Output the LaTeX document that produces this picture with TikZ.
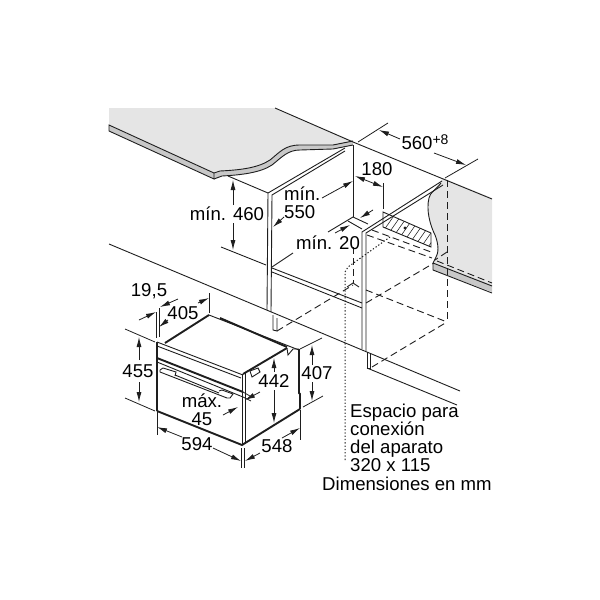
\documentclass[tikz,border=0pt]{standalone}
\usepackage{fontspec}
\setmainfont{Liberation Sans}
\usetikzlibrary{arrows.meta}
\definecolor{topgrey}{RGB}{229,229,229}
\definecolor{edgegrey}{RGB}{200,200,200}
\definecolor{inkgrey}{RGB}{30,30,30}
\tikzset{
    thinline/.style={draw=inkgrey, line width=0.9pt},
    heavyline/.style={draw=inkgrey, line width=1.9pt},
    dashline/.style={draw=inkgrey, line width=0.9pt, dash pattern=on 7pt off 4pt},
    dotline/.style={draw=inkgrey, line width=1pt, dash pattern=on 1.3pt off 2pt},
    dimline/.style={draw=inkgrey, line width=0.8pt},
    hatchline/.style={draw=inkgrey, line width=0.55pt},
    tipend/.style={dimline, -{Latex[length=10pt,width=5pt]}},
    tipboth/.style={dimline, {Latex[length=10pt,width=5pt]}-{Latex[length=10pt,width=5pt]}},
    dimtext/.style={inner sep=0pt, font=\fontsize{18.6}{20}\selectfont},
    notetext/.style={dimtext, anchor=west, align=left}
}
\begin{document}
\begin{tikzpicture}[x=1pt, y=-1pt]
    \useasboundingbox (0,0) rectangle (600,600);

    % left worktop
    \fill[topgrey] (109,108) -- (275,108) -- (353,141) -- (333,145) -- (300,145) .. controls (285,145) and (280,152) .. (270,160) .. controls (258,168) and (240,170) .. (220,171) -- (214,173) -- (109,125) -- cycle;
    \fill[edgegrey] (109,125) -- (214,173) -- (214,179) -- (109,131) -- cycle;
    \fill[edgegrey] (214,173) -- (220,171) .. controls (240,170) and (258,168) .. (270,160) .. controls (280,152) and (285,145) .. (300,145) -- (333,145) -- (353,141) -- (353,145) -- (333,149) -- (300,150) .. controls (288,150) and (282,157) .. (272,165) .. controls (260,173) and (240,175) .. (222,176) -- (214,179) -- cycle;
    \draw[thinline] (109,125) -- (214,173) -- (214,179) -- (109,131) -- cycle;
    \draw[thinline] (214,173) -- (220,171) .. controls (240,170) and (258,168) .. (270,160) .. controls (280,152) and (285,145) .. (300,145) -- (333,145) -- (353,141);
    \draw[thinline] (214,179) -- (222,176) .. controls (240,175) and (260,173) .. (272,165) .. controls (282,157) and (288,150) .. (300,150) -- (333,149) -- (353,145);

    % right worktop
    \fill[topgrey] (443,178) -- (492,198) -- (492,285) -- (433,263) -- (436,257) .. controls (440,250) and (437,240) .. (435,235) .. controls (430,225) and (426,210) .. (430,195) -- cycle;
    \fill[edgegrey] (433,263) -- (492,285) -- (492,292) -- (433,270) -- cycle;
    \draw[thinline] (433,263) -- (492,286);
    \draw[thinline] (433,263) -- (433,270) -- (492,293);
    \draw[thinline] (441,183) .. controls (436,190) and (430,192) .. (429,198) .. controls (426,210) and (430,225) .. (435,235) .. controls (437,240) and (440,250) .. (436,257) -- (433,263);
    \draw[dashline] (437,261) -- (492,283);
    \draw[dashline] (447,180) -- (447,322);
    \draw[dashline] (447,252) -- (435,260);

    % back and wall lines
    \draw[thinline] (275,108) -- (353,142) -- (492,199);
    \draw[thinline] (109,244) -- (460,391);
    \draw[thinline] (367,368) -- (457,405);
    \draw[thinline] (228,176) -- (268,193);
    \draw[thinline] (221,247) -- (266,265);

    % left side panel
    \draw[thinline] (345,148) -- (268,193) -- (267,310);
    \draw[thinline] (345,151) -- (272,195) -- (271,312);
    \draw[thinline] (273,315) -- (273,330) -- (277,331) -- (277,318);
    \draw[thinline] (272,268) -- (362,303);
    \draw[thinline] (272,272) -- (362,308);

    % right side panel
    \draw[thinline] (353,145) -- (353,217);
    \draw[thinline] (328,232) -- (353,217) -- (368,224);
    \draw[thinline] (348,221) -- (362,229);
    \draw[thinline] (442,181) -- (362,232) -- (362,349);
    \draw[thinline] (443,185) -- (366,233) -- (366,351);
    \draw[thinline] (367,352) -- (367,368) -- (370,368) -- (370,354);

    % connection box
    \begin{scope}
        \clip (383,212) -- (431,233) -- (431,247) -- (383,227) -- cycle;
        \foreach \h in {370,377,...,440} {
            \draw[hatchline] (\h,250) -- (\h+28,210);
        }
    \end{scope}
    \draw[thinline] (383,212) -- (431,233) -- (431,247) -- (383,227) -- cycle;
    \fill[inkgrey] (405,228) circle (1.6pt);
    \draw[dashline] (372,230) -- (431,252);
    \draw[dashline] (367,235) -- (432,258);

    % dashed outline of the space
    \draw[dashline] (353,247) -- (353,283);
    \draw[thinline] (347,287) -- (353,283) -- (359,287);
    \draw[dashline] (277,331) -- (353,285);
    \draw[dashline] (366,303) -- (434,263);
    \draw[dashline] (372,367) -- (447,322);
    \draw[dashline] (366,290) -- (447,322);
    \draw[dotline] (345,460) -- (345,272) -- (348,267) -- (390,237);

    % oven
    \draw[heavyline] (157,411) -- (242,445) -- (300,409);
    \draw[heavyline] (157,342) -- (157,411);
    \draw[heavyline] (165,343) -- (209,315);
    \draw[heavyline] (220,318) -- (287,347);
    \draw[heavyline] (243,374) -- (287,348);
    \draw[thinline] (209,315) -- (299,350);
    \draw[thinline] (287,348) -- (288,355) -- (293,349) -- (299,349);
    \draw[heavyline] (299,349) -- (299,393) -- (300,394) -- (300,409);
    \draw[thinline] (242,374) -- (242,445);
    \draw[thinline] (245,373) -- (245,443);
    \draw[thinline] (157,342) -- (243,375);
    \draw[thinline] (157,346) -- (241,378);
    \draw[heavyline] (157,358) -- (243,392);
    \draw[thinline] (157,362) -- (243,397);
    \draw[thinline] (160,370) -- (163,368) -- (176,372) -- (175,376);
    \draw[thinline] (160,370) -- (160,372) -- (227,398) -- (230,398) -- (233,394) -- (222,390) -- (219,391);
    \draw[thinline] (175,375) -- (219,393);
    \draw[thinline] (250,371) -- (258,368) -- (260,372) -- (252,377) -- cycle;

    % dimensions above
    \node[dimtext] (lblheight) at (227,214) {mín. 460};
    \draw[tipend] (233,205) -- (233,180);
    \draw[tipend] (233,223) -- (233,250);
    \node[dimtext, anchor=west, align=left, font=\fontsize{18.6}{18}\selectfont] (lbldepth) at (284,203) {mín.\\550};
    \draw[tipend] (284,217) -- (273,227);
    \draw[tipend] (322,198) -- (353,181);
    \node[dimtext] (lblgap) at (328,243) {mín. 20};
    \draw[thinline] (293,253) -- (272,267);
    \draw[tipend] (335,233) -- (350,225);
    \draw[tipend] (373,210) -- (360,218);
    \node[dimtext] (lbldist) at (377,169) {180};
    \draw[tipboth] (355,176) -- (383,187);
    \draw[dimline] (383,183) -- (383,209);
    \node[dimtext] (lblwidth) at (425,142) {560\raisebox{0.55ex}{\fontsize{14}{14}\selectfont +8}};
    \draw[dimline] (358,142) -- (388,123);
    \draw[dimline] (445,178) -- (478,159);
    \draw[tipend] (400,139) -- (379,130);
    \draw[tipend] (434,153) -- (466,165);

    % dimensions of the oven
    \node[dimtext] (lblnineteen) at (149,291) {19,5};
    \draw[dimline] (156,312) -- (156,338);
    \draw[dimline] (159,308) -- (159,337);
    \draw[tipend] (139,320) -- (156,312);
    \draw[tipend] (178,299) -- (160,307);
    \node[dimtext] (lbltop) at (183,313) {405};
    \draw[dimline] (209,293) -- (209,313);
    \draw[tipend] (168,320) -- (159,327);
    \draw[tipend] (198,303) -- (209,298);
    \node[dimtext] (lblfront) at (138,371) {455};
    \draw[dimline] (125,329) -- (155,342);
    \draw[dimline] (125,398) -- (155,411);
    \draw[tipend] (139,360) -- (139,337);
    \draw[tipend] (139,382) -- (139,402);
    \node[dimtext] (lblbase) at (197,444) {594};
    \draw[dimline] (157,412) -- (157,435);
    \draw[dimline] (241,448) -- (241,468);
    \draw[dimline] (244,448) -- (244,468);
    \draw[tipend] (182,437) -- (157,427);
    \draw[tipend] (213,448) -- (241,461);
    \node[dimtext] (lblside) at (277,446) {548};
    \draw[dimline] (300,410) -- (300,440);
    \draw[tipend] (260,453) -- (245,461);
    \draw[tipend] (282,438) -- (300,428);
    \node[dimtext] (lblinner) at (274,381) {442};
    \draw[tipend] (274,372) -- (274,358);
    \draw[tipend] (274,390) -- (274,423);
    \node[dimtext] (lblrear) at (317,373) {407};
    \draw[dimline] (300,349) -- (322,338);
    \draw[dimline] (303,407) -- (323,396);
    \draw[tipend] (312,365) -- (312,345);
    \draw[tipend] (312,382) -- (312,401);
    \node[dimtext, align=center, font=\fontsize{18.6}{18}\selectfont] (lblmax) at (202,410) {máx.\\45};
    \draw[dimline] (243,392) -- (250,396);
    \draw[dimline] (243,397) -- (251,401);
    \draw[tipend] (260,392) -- (245,400);
    \draw[tipend] (223,415) -- (238,407);

    % note
    \node[notetext, font=\fontsize{18.6}{18}\selectfont] (noteA) at (350,438) {Espacio para\\conexión\\del aparato\\320 x 115};
    \node[notetext] (noteB) at (322,484) {Dimensiones en mm};
\end{tikzpicture}
\end{document}
